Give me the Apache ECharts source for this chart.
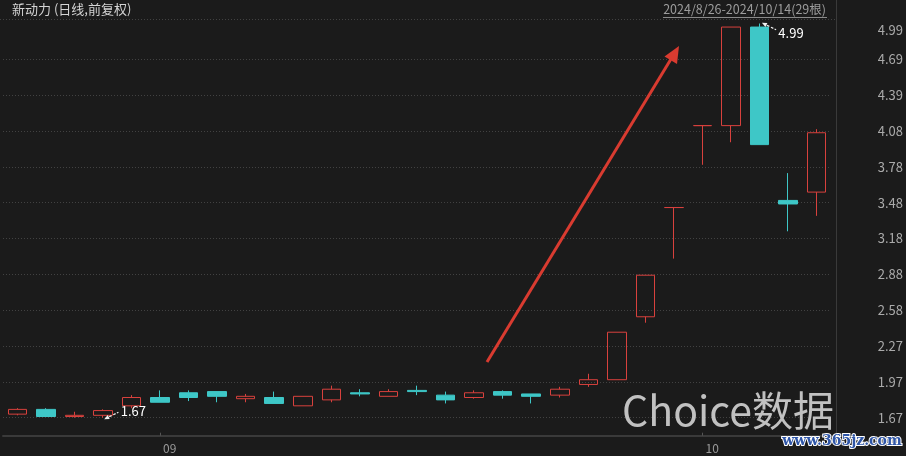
<!DOCTYPE html>
<html>
<head>
<meta charset="utf-8">
<script src="https://cdn.jsdelivr.net/npm/echarts@6/dist/echarts.min.js"></script>
<style>
html,body{margin:0;padding:0;background:#1b1b1b;}
#c{width:906px;height:456px;}
</style>
</head>
<body>
<div id="c"></div>
<script>
// ---- data ----
const dates = ['2024-08-26','2024-08-27','2024-08-28','2024-08-29','2024-08-30',
  '2024-09-02','2024-09-03','2024-09-04','2024-09-05','2024-09-06',
  '2024-09-09','2024-09-10','2024-09-11','2024-09-12','2024-09-13',
  '2024-09-18','2024-09-19','2024-09-20',
  '2024-09-23','2024-09-24','2024-09-25','2024-09-26','2024-09-27',
  '2024-09-30',
  '2024-10-08','2024-10-09','2024-10-10','2024-10-11','2024-10-14'];
const openP  = [1.70,1.74,1.68,1.69,1.77,1.84,1.88,1.89,1.83,1.84,1.77,1.82,1.88,1.85,1.90,1.86,1.84,1.89,1.87,1.86,1.95,1.99,2.52,3.44,4.13,4.13,4.96,3.50,3.57];
const closeP = [1.74,1.68,1.69,1.73,1.84,1.80,1.84,1.85,1.85,1.79,1.85,1.91,1.87,1.89,1.89,1.82,1.88,1.86,1.85,1.91,1.99,2.39,2.87,3.44,4.13,4.96,3.97,3.47,4.07];
const lowP   = [1.69,1.68,1.67,1.67,1.75,1.80,1.81,1.80,1.80,1.79,1.77,1.80,1.85,1.85,1.86,1.79,1.83,1.83,1.79,1.84,1.93,1.99,2.47,3.01,3.80,3.99,3.97,3.24,3.37];
const highP  = [1.75,1.75,1.72,1.74,1.86,1.90,1.90,1.89,1.87,1.89,1.85,1.94,1.91,1.91,1.94,1.89,1.90,1.90,1.87,1.93,2.04,2.39,2.87,3.44,4.13,4.96,4.99,3.73,4.10];
const yMin = 1.67, yMax = 4.99, ySplits = 11;
const minMark = { index: 3, value: 1.67 };
const maxMark = { index: 26, value: 4.99 };
const titleText = '新动力 (日线,前复权)';
const rangeText = '2024/8/26-2024/10/14(29根)';

// ---- style ----
const RED = '#d8413d', CYAN = '#3ec7c7', GRID = '#424242', BG = '#1b1b1b';
const FONT = '"Noto Sans CJK SC","Noto Sans",sans-serif';

function arrowPath(w, h, tipBottom) {
  const T = [0, tipBottom ? h : 0], E = [w, tipBottom ? 0 : h];
  const L = Math.hypot(E[0]-T[0], E[1]-T[1]);
  const d = [(E[0]-T[0])/L, (E[1]-T[1])/L], n = [-d[1], d[0]];
  const P = (t, s) => [T[0]+d[0]*t+n[0]*s, T[1]+d[1]*t+n[1]*s];
  const f = p => p[0].toFixed(3)+' '+p[1].toFixed(3);
  let s = 'M'+f(P(0,0))+'L'+f(P(5,2.2))+'L'+f(P(5,-2.2))+'Z';
  [[5.5,8.2],[10,12.6],[14,L]].forEach(([a,b]) => {
    s += 'M'+f(P(a,0.6))+'L'+f(P(b,0.6))+'L'+f(P(b,-0.6))+'L'+f(P(a,-0.6))+'Z';
  });
  return 'path://' + s;
}

const ohlc = dates.map((_, i) => [openP[i], closeP[i], lowP[i], highP[i]]);
const newMonth = (i) => i > 0 && dates[i].slice(5,7) !== dates[i-1].slice(5,7);

const chart = echarts.init(document.getElementById('c'), null, {renderer:'canvas'});
chart.setOption({
  backgroundColor: BG,
  animation: false,
  grid: { left: 3, right: 74, top: 23.5, bottom: 38.3 },
  xAxis: {
    type: 'category', data: dates, boundaryGap: true, offset: 18,
    axisLine: { lineStyle: { color: '#3a3a3a', width: 2 } },
    axisTick: { show: true, inside: true, length: 3, alignWithLabel: true,
      interval: (i) => newMonth(i), lineStyle: { color: '#555' } },
    axisLabel: { interval: (i) => newMonth(i), formatter: v => v.slice(5,7),
      color: '#9a9a9a', fontSize: 12, fontFamily: FONT, align: 'left', padding: [0,0,0,3], margin: 7 },
    splitLine: { show: false }
  },
  yAxis: {
    type: 'value', position: 'right', min: yMin, max: yMax,
    interval: 0.30182, scale: true, offset: 4,
    axisLine: { show: false }, axisTick: { show: false },
    axisLabel: {
      color: '#aaaaaa', fontSize: 13, fontFamily: FONT, align: 'right', margin: 68,
      formatter: v => Math.abs(v - yMax) < 1e-6 ? '{top|' + v.toFixed(2) + '}' : v.toFixed(2),
      rich: { top: { color: '#aaaaaa', fontSize: 13, fontFamily: FONT, padding: [14,0,0,0] } }
    },
    splitLine: { show: true, showMaxLine: false, lineStyle: { color: GRID, type: [1,2], width: 1 } }
  },
  series: [{
    type: 'candlestick', data: ohlc, barWidth: 19,
    itemStyle: { color: 'rgba(0,0,0,0)', color0: CYAN, borderColor: RED, borderColor0: CYAN,
      borderColorDoji: RED, borderWidth: 1 },
    markPoint: {
      silent: true, animation: false,
      data: [
        { coord: [dates[minMark.index], minMark.value], value: minMark.value,
          symbol: arrowPath(14, 7, true), symbolSize: [14.5, 7.5], symbolOffset: [8.5, -2.2],
          itemStyle: { color: '#f0f0f0' },
          label: { show: true, position: 'right', distance: 2, offset: [0, -4.5], formatter: minMark.value.toFixed(2),
            color: '#ffffff', fontSize: 13, fontFamily: FONT } },
        { coord: [dates[maxMark.index], maxMark.value], value: maxMark.value,
          symbol: arrowPath(14, 7, false), symbolSize: [14.5, 7.5], symbolOffset: [9.5, 3],
          itemStyle: { color: '#f0f0f0' },
          label: { show: true, position: 'right', distance: 2, offset: [0, 6.5], formatter: maxMark.value.toFixed(2),
            color: '#ffffff', fontSize: 13, fontFamily: FONT } }
      ]
    }
  }],
  graphic: [
    { type: 'line', z: 1, silent: true, shape: { x1: 0, y1: 19.5, x2: 836, y2: 19.5 },
      style: { stroke: GRID, lineWidth: 1, lineDash: [1,2] } },
    { type: 'line', z: 1, silent: true, shape: { x1: 836.5, y1: 0, x2: 836.5, y2: 436 },
      style: { stroke: '#3a3a3a', lineWidth: 1 } },
    { type: 'text', z: 10, silent: true, left: 12, top: 3,
      style: { text: titleText, fill: '#d4d4d4', font: '13px ' + FONT } },
    { type: 'text', z: 10, silent: true, right: 80, top: 3,
      style: { text: rangeText, fill: '#9c9c9c', font: '12.5px ' + FONT } },
    { type: 'line', z: 10, silent: true, shape: { x1: 663, y1: 17.5, x2: 827, y2: 17.5 },
      style: { stroke: '#8a8a8a', lineWidth: 1 } },
    // hand-drawn red arrow
    { type: 'line', z: 20, silent: true, shape: { x1: 487, y1: 362, x2: 671, y2: 59 },
      style: { stroke: '#d93b30', lineWidth: 3 } },
    { type: 'polygon', z: 20, silent: true, shape: { points: [[679,46],[677,64],[664.5,56.5]] },
      style: { fill: '#d93b30' } },
    // watermarks
    { type: 'text', z: 30, silent: true, x: 728, y: 410,
      style: { text: 'Choice数据', fill: 'rgba(212,212,212,0.9)', font: '41px ' + FONT,
        align: 'center', verticalAlign: 'middle' } },
    { type: 'text', z: 30, silent: true, x: 842, y: 441,
      style: { text: 'www.365jz.com', fill: '#2f56a8', stroke: '#ffffff', lineWidth: 2,
        font: 'bold 14px "DejaVu Serif", serif', align: 'center', verticalAlign: 'middle' } }
  ]
});
</script>
</body>
</html>
